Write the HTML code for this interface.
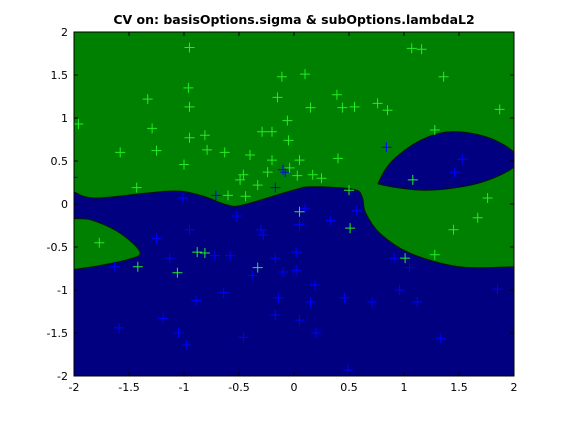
<!DOCTYPE html>
<html><head><meta charset="utf-8"><style>
body{margin:0;background:#fff;}
svg{display:block;font-family:"DejaVu Sans","Liberation Sans",sans-serif;}
</style></head><body>
<svg id="chart" width="568" height="423" viewBox="0 0 568 423">
<rect width="568" height="423" fill="#fff"/>
<text x="294" y="24" text-anchor="middle" font-size="12.5" font-weight="bold">CV on: basisOptions.sigma &amp; subOptions.lambdaL2</text>
<g id="plot"></g>
</svg>
<script>
const xTicks=[-2,-1.5,-1,-0.5,0,0.5,1,1.5,2];
const yTicks=[-2,-1.5,-1,-0.5,0,0.5,1,1.5,2];
const xTickLabels=["-2","-1.5","-1","-0.5","0","0.5","1","1.5","2"];
const yTickLabels=["-2","-1.5","-1","-0.5","0","0.5","1","1.5","2"];
const mainBoundary=[[-2,0.14],[-1.79,0.07],[-1.13,0.15],[-0.85,0.1],[-0.61,-0.01],[-0.46,-0.01],[-0.01,0.16],[0.17,0.2],[0.54,0.17],[0.62,0.08],[0.65,-0.1],[0.78,-0.34],[1.05,-0.57],[1.5,-0.73],[2,-0.73]];
const leftLobe=[[-2,-0.17],[-1.83,-0.19],[-1.58,-0.34],[-1.4,-0.56],[-1.52,-0.65],[-1.83,-0.73],[-2,-0.76]];
const rightLobe=[[0.78,0.28],[0.9,0.51],[1.15,0.74],[1.42,0.84],[1.75,0.78],[2,0.6],[2,0.43],[1.67,0.24],[1.21,0.16],[0.81,0.22]];
const greenX=[-0.95,-1.96,-1.33,-1.29,-1.58,-1.25,-0.95,-0.96,-0.95,-0.81,-0.79,-0.63,-1,-1.43,-1.77,-1.42,-1.06,-0.88,-0.81,-0.33,-0.4,-0.29,-0.2,-0.15,-0.11,0.1,-0.06,-0.05,-0.2,-0.24,-0.33,-0.46,-0.49,-0.44,0.05,0.05,0.03,0.15,0.17,0.25,0.4,0.39,0.44,0.55,0.76,0.85,0.5,0.51,1.07,1.16,1.36,1.28,1.08,1.87,1.76,1.67,1.45,1.28,1.01,-0.04,-0.6];
const greenY=[1.82,0.93,1.22,0.88,0.6,0.62,1.13,1.35,0.77,0.8,0.63,0.6,0.46,0.19,-0.45,-0.73,-0.8,-0.56,-0.57,-0.74,0.57,0.84,0.84,1.24,1.48,1.51,0.97,0.74,0.51,0.37,0.22,0.34,0.28,0.09,0.51,-0.09,0.33,1.12,0.34,0.3,0.53,1.27,1.12,1.13,1.17,1.09,0.16,-0.28,1.81,1.8,1.48,0.86,0.28,1.1,0.07,-0.16,-0.3,-0.59,-0.63,0.42,0.1];
const blueX=[-2.01,0.84,1.53,1.46,1.08,0.57,0.33,0.05,0.02,0.02,-0.28,-0.52,-0.95,-1.25,-1.13,-1.63,-0.72,-0.58,-0.64,-0.38,-0.17,-0.1,0.19,0.15,0.05,0.2,0.46,0.71,0.91,1.05,0.96,1.12,1.33,1.85,-1.59,-1.19,-0.98,-0.89,-0.46,-0.14,-0.17,0.49,-0.08,-1.01,-0.71,-0.17,-0.1,0.1,-0.3,-1.05];
const blueY=[0.31,0.66,0.52,0.37,0.28,-0.08,-0.19,-0.24,-0.56,-0.77,-0.36,-0.14,-0.3,-0.4,-0.63,-0.73,-0.6,-0.6,-1.03,-0.83,-0.63,-0.79,-0.94,-1.14,-1.35,-1.5,-1.09,-1.14,-0.63,-0.74,-1,-1.14,-1.56,-0.99,-1.44,-1.33,-1.64,-1.12,-1.55,-1.09,-1.29,-1.93,0.37,0.07,0.1,0.19,0.4,-0.05,-0.3,-1.5];

const L=74,R=514,T=32,B=376;
const sx=v=>L+(v+2)/4*(R-L);
const sy=v=>B-(v+2)/4*(B-T);
const NS="http://www.w3.org/2000/svg";
const g=document.getElementById('plot');
function mk(tag,attrs){const e=document.createElementNS(NS,tag);for(const k in attrs)e.setAttribute(k,attrs[k]);g.appendChild(e);return e;}
function smooth(pts,closed){
  const p=pts.map(d=>[sx(d[0]),sy(d[1])]);const n=p.length;
  let s="M"+p[0][0]+","+p[0][1];
  const last=closed?n:n-1;
  for(let i=0;i<last;i++){
    const p0=p[closed?(i-1+n)%n:Math.max(i-1,0)],p1=p[i],p2=p[(i+1)%n],p3=p[closed?(i+2)%n:Math.min(i+2,n-1)];
    const c1=[p1[0]+(p2[0]-p0[0])/6,p1[1]+(p2[1]-p0[1])/6],c2=[p2[0]-(p3[0]-p1[0])/6,p2[1]-(p3[1]-p1[1])/6];
    s+=" C"+c1+" "+c2+" "+p2;
  }
  return s;
}
const defs=mk('defs',{});
const cp=document.createElementNS(NS,'clipPath');cp.setAttribute('id','clip');defs.appendChild(cp);
const cr=document.createElementNS(NS,'rect');cr.setAttribute('x',L);cr.setAttribute('y',T);cr.setAttribute('width',R-L);cr.setAttribute('height',B-T);cp.appendChild(cr);
let e;
e=mk('rect',{x:L,y:T,width:R-L,height:B-T,fill:'#008000'});

e=mk('path',{d:smooth(mainBoundary,false)+" L"+sx(2)+","+sy(-2)+" L"+sx(-2)+","+sy(-2)+" Z",fill:'#000080',stroke:'#001a00','stroke-width':1,'clip-path':'url(#clip)'});

e=mk('path',{d:smooth(leftLobe,false)+" Z",fill:'#008000',stroke:'#001a00','stroke-width':1,'clip-path':'url(#clip)'});

e=mk('path',{d:smooth(rightLobe,true)+" Z",fill:'#000080',stroke:'#001a00','stroke-width':1,'clip-path':'url(#clip)'});

function plus(x,y,c,name){
  const X=sx(x),Y=sy(y);
  const p=mk('path',{d:`M${X-5},${Y}H${X+5}M${X},${Y-5}V${Y+5}`,stroke:c,'stroke-width':1,'clip-path':'url(#clip)'});
  
  
}
blueX.forEach((v,i)=>plus(v,blueY[i],'#0000ff','blue-point'));
greenX.forEach((v,i)=>plus(v,greenY[i],'#22ee22','green-point'));
e=mk('rect',{x:L,y:T,width:R-L,height:B-T,fill:'none',stroke:'#000','stroke-width':1});

xTicks.forEach((v,i)=>{
  const X=sx(v);
  mk('path',{d:`M${X},${B}V${B-4}M${X},${T}V${T+4}`,stroke:'#000','stroke-width':1});
  const t=mk('text',{x:X,y:B+15,'text-anchor':'middle','font-size':11});
  t.textContent=xTickLabels[i];
  
  
});
yTicks.forEach((v,i)=>{
  const Y=sy(v);
  mk('path',{d:`M${L},${Y}H${L+4}M${R},${Y}H${R-4}`,stroke:'#000','stroke-width':1});
  const t=mk('text',{x:L-6,y:Y+4,'text-anchor':'end','font-size':11});
  t.textContent=yTickLabels[i];
  
  
});
</script>
</body></html>
